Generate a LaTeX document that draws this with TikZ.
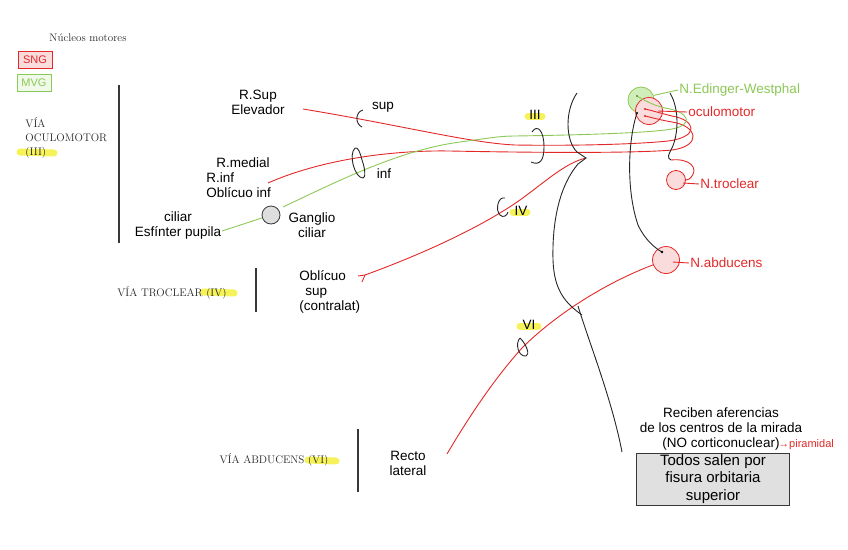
\documentclass[tikz,border=0pt]{standalone}
\usepackage{fontspec}
\newfontfamily\handfont{Liberation Sans}
\definecolor{motorred}{RGB}{228,40,40}
\definecolor{motorfill}{RGB}{250,220,220}
\definecolor{visgreen}{RGB}{140,200,85}
\definecolor{visfill}{RGB}{208,238,185}
\definecolor{hlyellow}{RGB}{246,242,90}
\definecolor{inkgray}{RGB}{55,55,55}
\definecolor{ganglgray}{RGB}{222,222,222}
\definecolor{boxgray}{RGB}{224,224,224}

\begin{document}
\begin{tikzpicture}[x=1pt, y=-1pt, line width=0.9pt,
  hand/.style={font=\handfont\fontsize{13.5}{15}\selectfont, align=center, inner sep=1pt},
  serifnote/.style={font=\fontsize{11}{14}\selectfont, text=black!85, inner sep=1pt},
  keybox/.style={font=\handfont\fontsize{11}{12}\selectfont, line width=0.8pt, minimum width=34, minimum height=17, inner sep=1pt},
  nucleus/.style={circle, line width=0.8pt, inner sep=0pt},
  motor/.style={motorred, line width=0.9pt},
  visceral/.style={visgreen, line width=0.9pt},
  tract/.style={black!85, line width=0.9pt},
  hilite/.style={hlyellow, line width=7pt, line cap=round},
  divider/.style={inkgray, line width=1.1pt}]

            \useasboundingbox (0,0) rectangle (848,549);

            % highlighter marks
            \draw[hilite] (20,152) -- (54,153);
            \draw[hilite] (203,292) -- (234,293);
            \draw[hilite] (308,460) -- (336,461);
            \draw[hilite] (528,116) -- (542,116);
            \draw[hilite] (513,212) -- (527,212);
            \draw[hilite] (520,326) -- (538,326);

            \draw[divider] (119,85) -- (119,243);
            \draw[divider] (256,268) -- (256,312);
            \draw[divider] (358,429) -- (358,492);

            \node[serifnote] (nucleos) at (88,38) {Núcleos motores};
            \node[keybox, draw=motorred, fill=motorfill, text=motorred] (sng) at (35,60) {SNG};
            \node[keybox, draw=visgreen, fill=visfill!30, text=visgreen] (mvg) at (34,83) {MVG};

            \node[serifnote, align=left, anchor=west] (viaoculo) at (24,138) {VÍA\\OCULOMOTOR\\(III)};
            \node[serifnote] (viatroc) at (172,293) {VÍA TROCLEAR (IV)};
            \node[serifnote] (viaabd) at (274,460) {VÍA ABDUCENS (VI)};

            \node[hand] (rsup) at (258,102) {R.Sup\\Elevador};
            \node[hand, align=left, anchor=west] (rmedial) at (205,178) {\hspace*{10pt}R.medial\\R.inf\\Oblícuo inf};
            \node[hand] (suplab) at (383,107) {sup};
            \node[hand] (inflab) at (384,174) {inf};
            \node[circle, draw=inkgray, fill=ganglgray, line width=0.8pt, minimum size=18, inner sep=0pt] (ganglio) at (271,215) {};
            \node[hand] (ganglab) at (312,225) {Ganglio\\ciliar};
            \node[hand] (ciliar) at (178,226) {ciliar\\Esfínter pupila};
            \node[hand, align=left, anchor=west] (oblsup) at (298,292) {Oblícuo\\\hspace*{6pt}sup\\(contralat)};
            \node[hand] (recto) at (408,463) {Recto\\lateral};
            \node[hand] (labIII) at (535,115) {III};
            \node[hand] (labIV) at (521,211) {IV};
            \node[hand] (labVI) at (529,325) {VI};

            \node[nucleus, draw=visgreen, fill=visfill, minimum size=26] (ew) at (641,100) {};
            \node[nucleus, draw=motorred, fill=motorfill, minimum size=27] (ocu) at (649,111) {};
            \node[nucleus, draw=motorred, fill=motorfill, minimum size=19] (troc) at (676,180) {};
            \node[nucleus, draw=motorred, fill=motorfill, minimum size=27] (abd) at (666,260) {};

            \node[hand, text=visgreen, anchor=west] (ewlab) at (678,90) {N.Edinger-Westphal};
            \node[hand, text=motorred, anchor=west] (oculab) at (687,112) {oculomotor};
            \node[hand, text=motorred, anchor=west] (troclab) at (699,184) {N.troclear};
            \node[hand, text=motorred, anchor=west] (abdlab) at (689,263) {N.abducens};

            \node[hand] (aferencias) at (721,429) {Reciben aferencias\\de los centros de la mirada\\(NO corticonuclear)};
            \node[hand, text=motorred, font=\handfont\fontsize{11}{12}\selectfont] (piramidal) at (806,445) {→piramidal};
            \node[draw=inkgray, fill=boxgray, line width=0.8pt, minimum width=153, minimum height=52, inner sep=0pt,
                  align=center, font=\handfont\fontsize{15}{17.5}\selectfont] (fisura) at (713,479) {Todos salen por\\fisura orbitaria\\superior};

            \coordinate (rsupstart) at (303,109);
            \coordinate (rsupend) at (645,109);
            \coordinate (rmedstart) at (268,183);
            \coordinate (rmedend) at (645,116);
            \coordinate (pupila) at (222,231);
            \coordinate (gangout) at (283,207);
            \coordinate (ewend) at (637,96);
            \coordinate (ivstart) at (365,275);
            \coordinate (notch) at (586,158);
            \coordinate (vistart) at (447,454);
            \coordinate (mlftop) at (637,113);
            \coordinate (mlfend) at (662,252);
            \coordinate (trocin) at (671,160);

            % fibres of the oculomotor nerve
            \draw[motor] (rsupstart) .. controls (400,125) and (470,143) .. (515,145)
                .. controls (580,146) and (640,144) .. (668,141)
                .. controls (700,137) and (696,120) .. (672,116)
                .. controls (660,113) and (650,110) .. (rsupend);
            \draw[motor] (rmedstart) .. controls (320,160) and (390,150) .. (450,151)
                .. controls (550,153) and (640,153) .. (672,150)
                .. controls (702,146) and (698,126) .. (672,122)
                .. controls (660,120) and (650,117) .. (rmedend);
            \draw[visceral] (pupila) -- (ganglio);
            \draw[visceral] (gangout) .. controls (340,180) and (400,150) .. (460,142)
                .. controls (490,138) and (500,136) .. (515,136)
                .. controls (580,135) and (650,133) .. (672,129)
                .. controls (694,125) and (690,112) .. (665,108)
                .. controls (652,105) and (642,99) .. (ewend);

            % troclear and abducens
            \draw[motor] (358,276) -- (ivstart) -- (362,282);
            \draw[motor] (ivstart) .. controls (420,255) and (480,228) .. (520,200)
                .. controls (545,182) and (565,163) .. (notch);
            \draw[motor] (vistart) .. controls (470,415) and (495,378) .. (522,348)
                .. controls (555,315) and (605,283) .. (abd);
            \draw[motor] (trocin) .. controls (690,158) and (698,168) .. (692,176)
                .. controls (690,179) and (688,180) .. (troc);

            \draw[tract] (577,93) .. controls (565,110) and (565,140) .. (577,152) -- (notch) -- (578,164)
                .. controls (560,185) and (552,220) .. (553,260)
                .. controls (554,290) and (565,303) .. (582,315);
            \draw[tract] (578,306) .. controls (590,345) and (612,400) .. (622,452);
            \draw[tract] (mlftop) .. controls (628,140) and (626,190) .. (638,225)
                .. controls (645,240) and (655,248) .. (mlfend);
            \draw[tract] (670,93) .. controls (680,110) and (678,135) .. (672,148)
                .. controls (668,155) and (667,158) .. (trocin);

            % nerve loops
            \draw[tract] (363,110) .. controls (355,112) and (355,124) .. (362,127);
            \draw[tract] (355,148) .. controls (348,155) and (355,178) .. (363,178)
                .. controls (366,178) and (365,168) .. (362,160) .. controls (360,152) and (358,147) .. (355,148);
            \draw[tract] (532,132) .. controls (537,124) and (544,130) .. (544,147)
                .. controls (544,160) and (540,166) .. (531,162);
            \draw[tract] (505,198) .. controls (498,196) and (495,210) .. (500,215)
                .. controls (503,218) and (507,216) .. (508,212);
            \draw[tract] (520,338) .. controls (515,343) and (518,357) .. (526,356)
                .. controls (530,355) and (527,345) .. (520,338);

            \fill[motorred] (rsupend) circle (1.2) (rmedend) circle (1.2);
            \fill[visgreen!70!black] (ewend) circle (1.2);
            \fill[black] (mlftop) circle (1.1) (mlfend) circle (1.3);

            \draw[visceral] (ew.20) -- (ewlab.west);
            \draw[motor] ([xshift=9pt]ocu.center) -- (oculab.west);
            \draw[motor] ([xshift=7pt, yshift=-3pt]troc.center) -- (troclab.west);
            \draw[motor] ([xshift=7pt, yshift=-2pt]abd.center) -- (abdlab.west);

        \end{tikzpicture}
\end{document}
